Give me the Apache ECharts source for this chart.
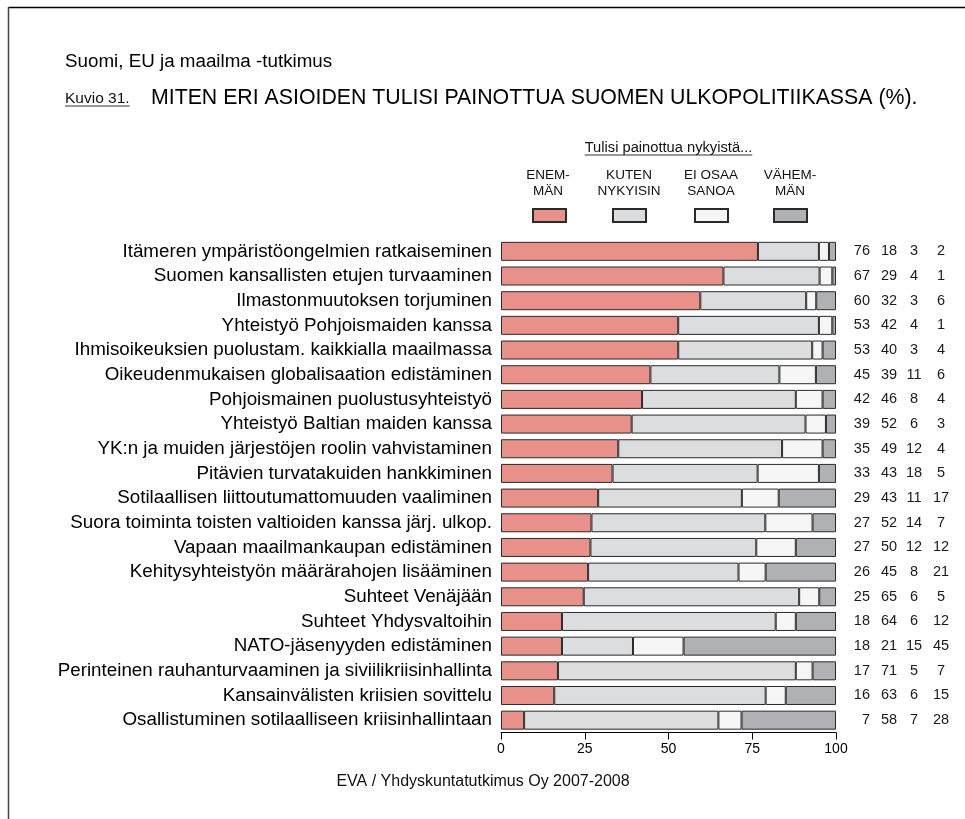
<!DOCTYPE html>
<html>
<head>
<meta charset="utf-8">
<script src="https://cdn.jsdelivr.net/npm/echarts@6/dist/echarts.min.js"></script>
<style>
  html, body { margin: 0; padding: 0; background: #fff; }
  #chart { width: 965px; height: 819px; }
</style>
</head>
<body>
<div id="chart"></div>
<script>
const categories = [
  "Itämeren ympäristöongelmien ratkaiseminen",
  "Suomen kansallisten etujen turvaaminen",
  "Ilmastonmuutoksen torjuminen",
  "Yhteistyö Pohjoismaiden kanssa",
  "Ihmisoikeuksien puolustam. kaikkialla maailmassa",
  "Oikeudenmukaisen globalisaation edistäminen",
  "Pohjoismainen puolustusyhteistyö",
  "Yhteistyö Baltian maiden kanssa",
  "YK:n ja muiden järjestöjen roolin vahvistaminen",
  "Pitävien turvatakuiden hankkiminen",
  "Sotilaallisen liittoutumattomuuden vaaliminen",
  "Suora toiminta toisten valtioiden kanssa järj. ulkop.",
  "Vapaan maailmankaupan edistäminen",
  "Kehitysyhteistyön määrärahojen lisääminen",
  "Suhteet Venäjään",
  "Suhteet Yhdysvaltoihin",
  "NATO-jäsenyyden edistäminen",
  "Perinteinen rauhanturvaaminen ja siviilikriisinhallinta",
  "Kansainvälisten kriisien sovittelu",
  "Osallistuminen sotilaalliseen kriisinhallintaan"
];
const seriesNames = ["ENEM-\nMÄN", "KUTEN\nNYKYISIN", "EI OSAA\nSANOA", "VÄHEM-\nMÄN"];

// bar segment values
const enemman  = [76.7, 66.4, 59.5, 52.9, 52.9, 44.6, 42.1, 39.0, 35.0, 33.3, 29.0, 27.0, 26.7, 26.0, 24.7, 18.2, 18.2, 17.0, 15.9, 6.9];
const kuten    = [18.2, 28.7, 31.6, 42.0, 40.0, 38.5, 45.9, 51.9, 48.9, 43.3, 42.9, 51.9, 49.5, 44.9, 64.3, 63.8, 21.2, 71.0, 63.1, 58.0];
const eiOsaa   = [3.0, 3.8, 3.0, 4.0, 3.1, 10.9, 8.0, 6.1, 12.1, 18.3, 11.0, 14.1, 11.8, 8.1, 6.0, 6.0, 15.1, 5.0, 6.0, 6.9];
const vahemman = [2.1, 1.1, 5.9, 1.1, 4.0, 6.0, 4.0, 3.0, 4.0, 5.1, 17.1, 7.0, 12.0, 21.0, 5.0, 12.0, 45.5, 7.0, 15.0, 28.2];

// printed numbers in the right-hand columns
const numEnemman  = [76, 67, 60, 53, 53, 45, 42, 39, 35, 33, 29, 27, 27, 26, 25, 18, 18, 17, 16, 7];
const numKuten    = [18, 29, 32, 42, 40, 39, 46, 52, 49, 43, 43, 52, 50, 45, 65, 64, 21, 71, 63, 58];
const numEiOsaa   = [3, 4, 3, 4, 3, 11, 8, 6, 12, 18, 11, 14, 12, 8, 6, 6, 15, 5, 6, 7];
const numVahemman = [2, 1, 6, 1, 4, 6, 4, 3, 4, 5, 17, 7, 12, 21, 5, 12, 45, 7, 15, 28];

const xTicks = [0, 25, 50, 75, 100];

const FONT = "'Liberation Sans', Arial, sans-serif";
const colors = ["#E8918B", "#DCDDDF", "#F6F6F6", "#B0B1B4"];
const segData = [enemman, kuten, eiOsaa, vahemman];

function measure(text, size) {
  const c = document.createElement('canvas').getContext('2d');
  c.font = size + "px 'Liberation Sans', Arial, sans-serif";
  return c.measureText(text).width;
}

const chart = echarts.init(document.getElementById('chart'), null, { renderer: 'canvas' });

const barSeries = segData.map((d, i) => ({
  name: seriesNames[i],
  type: 'bar',
  stack: 'total',
  barWidth: 19,
  data: d,
  itemStyle: { color: colors[i], borderColor: '#2a2a2a', borderWidth: 1 },
  emphasis: { disabled: true },
  animation: false
}));

const numberRows = categories.map((c, i) => [100, i, numEnemman[i], numKuten[i], numEiOsaa[i], numVahemman[i]]);

const numberSeries = {
  type: 'custom',
  clip: false,
  silent: true,
  animation: false,
  encode: { x: 0, y: 1 },
  data: numberRows,
  renderItem: function (params, api) {
    const p = api.coord([100, api.value(1)]);
    const st = { fontSize: 14.5, fontFamily: FONT, fill: '#1a1a1a', verticalAlign: 'middle' };
    return {
      type: 'group',
      children: [
        { type: 'text', style: Object.assign({}, st, { text: String(api.value(2)), x: p[0] + 34, y: p[1], align: 'right' }) },
        { type: 'text', style: Object.assign({}, st, { text: String(api.value(3)), x: p[0] + 53, y: p[1], align: 'center' }) },
        { type: 'text', style: Object.assign({}, st, { text: String(api.value(4)), x: p[0] + 78, y: p[1], align: 'center' }) },
        { type: 'text', style: Object.assign({}, st, { text: String(api.value(5)), x: p[0] + 105, y: p[1], align: 'center' }) }
      ]
    };
  }
};

const legendX = [532, 612, 694, 773];
const legendCenters = [548, 629, 711, 790];
const legends = seriesNames.map((n, i) => ({
  data: [n],
  left: legendX[i],
  top: 208,
  padding: 0,
  itemWidth: 33,
  itemHeight: 13,
  selectedMode: false,
  icon: 'rect',
  formatter: function () { return ''; },
  textStyle: { fontSize: 8 }
}));

const subTitle = "Tulisi painottua nykyistä...";
const subSize = 14.7;
const subW = measure(subTitle, subSize);
const subCx = 668.5;
const kuvio = "Kuvio 31.";
const kuvioSize = 15.5;
const kuvioW = measure(kuvio, kuvioSize);

const graphics = [
  { type: 'line', silent: true, shape: { x1: 8, y1: 7.5, x2: 965, y2: 7.5 }, style: { stroke: '#000', lineWidth: 1.3 } },
  { type: 'line', silent: true, shape: { x1: 8.5, y1: 7, x2: 8.5, y2: 819 }, style: { stroke: '#444', lineWidth: 1.5 } },
  { type: 'text', silent: true, style: { text: "Suomi, EU ja maailma -tutkimus", x: 65, y: 61.5, fontSize: 18.8, fontFamily: FONT, fill: '#000', verticalAlign: 'middle', align: 'left' } },
  { type: 'text', silent: true, style: { text: kuvio, x: 65, y: 98.5, fontSize: kuvioSize, fontFamily: FONT, fill: '#111', verticalAlign: 'middle', align: 'left' } },
  { type: 'line', silent: true, shape: { x1: 65, y1: 106, x2: 65 + kuvioW, y2: 106 }, style: { stroke: '#333', lineWidth: 1 } },
  { type: 'text', silent: true, style: { text: "MITEN ERI ASIOIDEN TULISI PAINOTTUA SUOMEN ULKOPOLITIIKASSA (%).", x: 151, y: 98, fontSize: 21.3, fontFamily: FONT, fill: '#000', verticalAlign: 'middle', align: 'left' } },
  { type: 'text', silent: true, style: { text: subTitle, x: subCx, y: 147.5, fontSize: subSize, fontFamily: FONT, fill: '#111', verticalAlign: 'middle', align: 'center' } },
  { type: 'line', silent: true, shape: { x1: subCx - subW / 2, y1: 155, x2: subCx + subW / 2, y2: 155 }, style: { stroke: '#333', lineWidth: 1 } },
  { type: 'text', silent: true, style: { text: "EVA / Yhdyskuntatutkimus Oy 2007-2008", x: 483, y: 782, fontSize: 16, fontFamily: FONT, fill: '#111', verticalAlign: 'middle', align: 'center' } }
];
seriesNames.forEach((n, i) => {
  graphics.push({ type: 'text', silent: true, style: { text: n, x: legendCenters[i], y: 183.3, fontSize: 13.5, lineHeight: 15.5, fontFamily: FONT, fill: '#111', verticalAlign: 'middle', align: 'center' } });
});

chart.setOption({
  animation: false,
  backgroundColor: '#fff',
  textStyle: { fontFamily: FONT },
  legend: legends,
  grid: { left: 501, right: 129, top: 239, bottom: 86.5, containLabel: false },
  xAxis: {
    type: 'value',
    min: 0,
    max: 100,
    interval: 25,
    splitLine: { show: false },
    axisLine: { show: true, lineStyle: { color: '#000', width: 1 } },
    axisTick: { show: true, length: 7, lineStyle: { color: '#000' } },
    axisLabel: {
      margin: 10, fontSize: 14, color: '#000', fontFamily: FONT,
      formatter: function (v) { return xTicks.indexOf(v) >= 0 ? String(v) : ''; }
    }
  },
  yAxis: {
    type: 'category',
    inverse: true,
    data: categories,
    axisLine: { show: false },
    axisTick: { show: false },
    splitLine: { show: false },
    axisLabel: { interval: 0, margin: 9, fontSize: 18.8, color: '#000', fontFamily: FONT }
  },
  series: barSeries.concat([numberSeries]),
  graphic: graphics
});
</script>
</body>
</html>
